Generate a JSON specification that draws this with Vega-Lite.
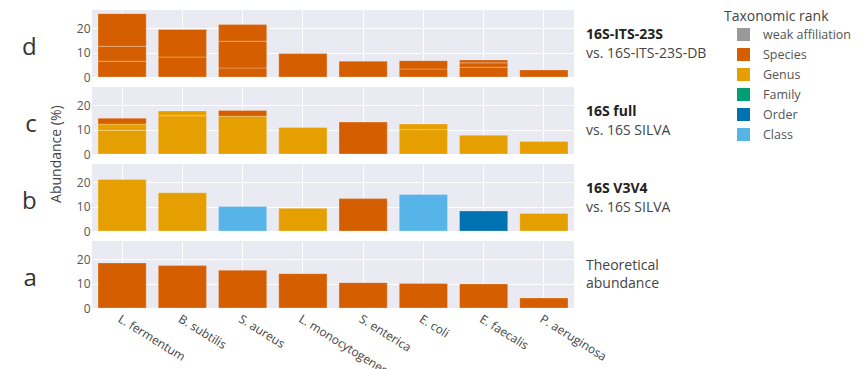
{
  "$schema": "https://vega.github.io/schema/vega-lite/v6.json",
  "padding": {"left": 21, "top": 10, "right": 5, "bottom": 5},
  "bounds": "flush",
  "spacing": 10,
  "title": {"text": "Abundance (%)", "orient": "left", "anchor": "middle", "angle": -90, "offset": -42, "dx": 39, "fontSize": 14, "fontWeight": "normal", "color": "#444", "font": "Open Sans"},
  "config": {
    "font": "Open Sans",
    "view": {"fill": "#EAEAF2", "stroke": null},
    "axisY": {"values": [0, 10, 20], "domain": false, "ticks": false, "labelPadding": 2, "labelFontSize": 12, "labelColor": "#555", "gridColor": "white", "gridWidth": 1, "titleAngle": 0, "titleFontSize": 24, "titleFontWeight": "normal", "titleColor": "#333", "titleAlign": "right", "titleBaseline": "alphabetic", "titleY": 44, "titlePadding": 40},
    "axisX": {"domain": false, "ticks": false, "grid": true, "gridColor": "white", "gridWidth": 1, "bandPosition": 0.5, "title": null},
    "legend": {"orient": "right", "offset": 17, "titleFontSize": 14, "titleFontWeight": "normal", "titleColor": "#444", "titlePadding": 4, "labelFontSize": 12.5, "labelColor": "#555", "symbolType": "square", "symbolSize": 169, "symbolStrokeWidth": 0, "symbolOffset": 13, "rowPadding": 7, "labelOffset": 13}
  },
  "datasets": {
    "bars": [
      {"panel": "d", "organism": "L. fermentum", "rank": "Species", "value": 6.5, "seg": 1},
      {"panel": "d", "organism": "L. fermentum", "rank": "Species", "value": 6.1, "seg": 2},
      {"panel": "d", "organism": "L. fermentum", "rank": "Species", "value": 13.4, "seg": 3},
      {"panel": "d", "organism": "B. subtilis", "rank": "Species", "value": 8.2, "seg": 1},
      {"panel": "d", "organism": "B. subtilis", "rank": "Species", "value": 11.3, "seg": 2},
      {"panel": "d", "organism": "S. aureus", "rank": "Species", "value": 3.7, "seg": 1},
      {"panel": "d", "organism": "S. aureus", "rank": "Species", "value": 11.0, "seg": 2},
      {"panel": "d", "organism": "S. aureus", "rank": "Species", "value": 6.8, "seg": 3},
      {"panel": "d", "organism": "L. monocytogenes", "rank": "Species", "value": 9.6, "seg": 1},
      {"panel": "d", "organism": "S. enterica", "rank": "Species", "value": 6.5, "seg": 1},
      {"panel": "d", "organism": "E. coli", "rank": "Species", "value": 3.3, "seg": 1},
      {"panel": "d", "organism": "E. coli", "rank": "Species", "value": 3.4, "seg": 2},
      {"panel": "d", "organism": "E. faecalis", "rank": "Species", "value": 4.0, "seg": 1},
      {"panel": "d", "organism": "E. faecalis", "rank": "Species", "value": 1.8, "seg": 2},
      {"panel": "d", "organism": "E. faecalis", "rank": "Species", "value": 1.2, "seg": 3},
      {"panel": "d", "organism": "P. aeruginosa", "rank": "Species", "value": 2.9, "seg": 1},
      {"panel": "c", "organism": "L. fermentum", "rank": "Genus", "value": 9.7, "seg": 1},
      {"panel": "c", "organism": "L. fermentum", "rank": "Genus", "value": 2.6, "seg": 2},
      {"panel": "c", "organism": "L. fermentum", "rank": "Species", "value": 2.4, "seg": 3},
      {"panel": "c", "organism": "B. subtilis", "rank": "Genus", "value": 15.7, "seg": 1},
      {"panel": "c", "organism": "B. subtilis", "rank": "Genus", "value": 2.0, "seg": 2},
      {"panel": "c", "organism": "S. aureus", "rank": "Genus", "value": 15.5, "seg": 1},
      {"panel": "c", "organism": "S. aureus", "rank": "Species", "value": 2.4, "seg": 2},
      {"panel": "c", "organism": "L. monocytogenes", "rank": "Genus", "value": 10.9, "seg": 1},
      {"panel": "c", "organism": "S. enterica", "rank": "Species", "value": 13.1, "seg": 1},
      {"panel": "c", "organism": "E. coli", "rank": "Genus", "value": 10.0, "seg": 1},
      {"panel": "c", "organism": "E. coli", "rank": "Genus", "value": 2.3, "seg": 2},
      {"panel": "c", "organism": "E. faecalis", "rank": "Genus", "value": 7.7, "seg": 1},
      {"panel": "c", "organism": "P. aeruginosa", "rank": "Genus", "value": 5.1, "seg": 1},
      {"panel": "b", "organism": "L. fermentum", "rank": "Genus", "value": 21.1, "seg": 1},
      {"panel": "b", "organism": "B. subtilis", "rank": "Genus", "value": 15.7, "seg": 1},
      {"panel": "b", "organism": "S. aureus", "rank": "Class", "value": 10.1, "seg": 1},
      {"panel": "b", "organism": "L. monocytogenes", "rank": "Genus", "value": 9.3, "seg": 1},
      {"panel": "b", "organism": "S. enterica", "rank": "Species", "value": 13.3, "seg": 1},
      {"panel": "b", "organism": "E. coli", "rank": "Class", "value": 15.0, "seg": 1},
      {"panel": "b", "organism": "E. faecalis", "rank": "Order", "value": 8.2, "seg": 1},
      {"panel": "b", "organism": "P. aeruginosa", "rank": "Genus", "value": 7.2, "seg": 1},
      {"panel": "a", "organism": "L. fermentum", "rank": "Species", "value": 18.5, "seg": 1},
      {"panel": "a", "organism": "B. subtilis", "rank": "Species", "value": 17.4, "seg": 1},
      {"panel": "a", "organism": "S. aureus", "rank": "Species", "value": 15.5, "seg": 1},
      {"panel": "a", "organism": "L. monocytogenes", "rank": "Species", "value": 14.1, "seg": 1},
      {"panel": "a", "organism": "S. enterica", "rank": "Species", "value": 10.4, "seg": 1},
      {"panel": "a", "organism": "E. coli", "rank": "Species", "value": 10.1, "seg": 1},
      {"panel": "a", "organism": "E. faecalis", "rank": "Species", "value": 9.9, "seg": 1},
      {"panel": "a", "organism": "P. aeruginosa", "rank": "Species", "value": 4.1, "seg": 1}
    ],
    "labels": [
      {"panel": "d", "line1": "16S-ITS-23S", "line2": "vs. 16S-ITS-23S-DB"},
      {"panel": "c", "line1": "16S full", "line2": "vs. 16S SILVA"},
      {"panel": "b", "line1": "16S V3V4", "line2": "vs. 16S SILVA"},
      {"panel": "a", "line1": "Theoretical", "line2": "abundance"}
    ]
  },
  "vconcat": [
    {
      "width": 482, "height": 67,
      "resolve": {"scale": {"x": "independent"}},
      "layer": [
        {
          "data": {"name": "bars"},
          "transform": [{"filter": "datum.panel === 'd'"}],
          "mark": {"type": "bar", "stroke": "white", "strokeOpacity": 0.25, "strokeWidth": 1},
          "encoding": {
            "x": {"field": "organism", "type": "nominal", "sort": ["L. fermentum", "B. subtilis", "S. aureus", "L. monocytogenes", "S. enterica", "E. coli", "E. faecalis", "P. aeruginosa"], "scale": {"paddingInner": 0.2, "paddingOuter": 0.1}, "axis": {"labels": false}},
            "y": {"field": "value", "type": "quantitative", "stack": "zero", "scale": {"domain": [0, 27.5], "nice": false}, "axis": {"title": "d"}},
            "color": {"field": "rank", "type": "nominal", "scale": {"domain": ["weak affiliation", "Species", "Genus", "Family", "Order", "Class"], "range": ["#999999", "#D55E00", "#E69F00", "#009E73", "#0072B2", "#56B4E9"]}, "legend": {"title": "Taxonomic rank"}},
            "order": {"field": "seg", "type": "quantitative"}
          }
        },
        {
          "data": {"name": "labels"},
          "transform": [{"filter": "datum.panel === 'd'"}],
          "mark": {"type": "text", "align": "left", "baseline": "middle", "dx": 12, "dy": -9, "fontSize": 14, "fontWeight": "bold", "color": "#222"},
          "encoding": {"x": {"datum": 1, "type": "quantitative", "scale": {"domain": [0, 1]}, "axis": null}, "text": {"field": "line1"}}
        },
        {
          "data": {"name": "labels"},
          "transform": [{"filter": "datum.panel === 'd'"}],
          "mark": {"type": "text", "align": "left", "baseline": "middle", "dx": 12, "dy": 10, "fontSize": 14, "color": "#444"},
          "encoding": {"x": {"datum": 1, "type": "quantitative", "scale": {"domain": [0, 1]}, "axis": null}, "text": {"field": "line2"}}
        }
      ]
    },
    {
      "width": 482, "height": 67,
      "resolve": {"scale": {"x": "independent"}},
      "layer": [
        {
          "data": {"name": "bars"},
          "transform": [{"filter": "datum.panel === 'c'"}],
          "mark": {"type": "bar", "stroke": "white", "strokeOpacity": 0.25, "strokeWidth": 1},
          "encoding": {
            "x": {"field": "organism", "type": "nominal", "sort": ["L. fermentum", "B. subtilis", "S. aureus", "L. monocytogenes", "S. enterica", "E. coli", "E. faecalis", "P. aeruginosa"], "scale": {"paddingInner": 0.2, "paddingOuter": 0.1}, "axis": {"labels": false}},
            "y": {"field": "value", "type": "quantitative", "stack": "zero", "scale": {"domain": [0, 27.5], "nice": false}, "axis": {"title": "c"}},
            "color": {"field": "rank", "type": "nominal", "scale": {"domain": ["weak affiliation", "Species", "Genus", "Family", "Order", "Class"], "range": ["#999999", "#D55E00", "#E69F00", "#009E73", "#0072B2", "#56B4E9"]}, "legend": {"title": "Taxonomic rank"}},
            "order": {"field": "seg", "type": "quantitative"}
          }
        },
        {
          "data": {"name": "labels"},
          "transform": [{"filter": "datum.panel === 'c'"}],
          "mark": {"type": "text", "align": "left", "baseline": "middle", "dx": 12, "dy": -9, "fontSize": 14, "fontWeight": "bold", "color": "#222"},
          "encoding": {"x": {"datum": 1, "type": "quantitative", "scale": {"domain": [0, 1]}, "axis": null}, "text": {"field": "line1"}}
        },
        {
          "data": {"name": "labels"},
          "transform": [{"filter": "datum.panel === 'c'"}],
          "mark": {"type": "text", "align": "left", "baseline": "middle", "dx": 12, "dy": 10, "fontSize": 14, "color": "#444"},
          "encoding": {"x": {"datum": 1, "type": "quantitative", "scale": {"domain": [0, 1]}, "axis": null}, "text": {"field": "line2"}}
        }
      ]
    },
    {
      "width": 482, "height": 67,
      "resolve": {"scale": {"x": "independent"}},
      "layer": [
        {
          "data": {"name": "bars"},
          "transform": [{"filter": "datum.panel === 'b'"}],
          "mark": {"type": "bar", "stroke": "white", "strokeOpacity": 0.25, "strokeWidth": 1},
          "encoding": {
            "x": {"field": "organism", "type": "nominal", "sort": ["L. fermentum", "B. subtilis", "S. aureus", "L. monocytogenes", "S. enterica", "E. coli", "E. faecalis", "P. aeruginosa"], "scale": {"paddingInner": 0.2, "paddingOuter": 0.1}, "axis": {"labels": false}},
            "y": {"field": "value", "type": "quantitative", "stack": "zero", "scale": {"domain": [0, 27.5], "nice": false}, "axis": {"title": "b"}},
            "color": {"field": "rank", "type": "nominal", "scale": {"domain": ["weak affiliation", "Species", "Genus", "Family", "Order", "Class"], "range": ["#999999", "#D55E00", "#E69F00", "#009E73", "#0072B2", "#56B4E9"]}, "legend": {"title": "Taxonomic rank"}},
            "order": {"field": "seg", "type": "quantitative"}
          }
        },
        {
          "data": {"name": "labels"},
          "transform": [{"filter": "datum.panel === 'b'"}],
          "mark": {"type": "text", "align": "left", "baseline": "middle", "dx": 12, "dy": -9, "fontSize": 14, "fontWeight": "bold", "color": "#222"},
          "encoding": {"x": {"datum": 1, "type": "quantitative", "scale": {"domain": [0, 1]}, "axis": null}, "text": {"field": "line1"}}
        },
        {
          "data": {"name": "labels"},
          "transform": [{"filter": "datum.panel === 'b'"}],
          "mark": {"type": "text", "align": "left", "baseline": "middle", "dx": 12, "dy": 10, "fontSize": 14, "color": "#444"},
          "encoding": {"x": {"datum": 1, "type": "quantitative", "scale": {"domain": [0, 1]}, "axis": null}, "text": {"field": "line2"}}
        }
      ]
    },
    {
      "width": 482, "height": 67,
      "resolve": {"scale": {"x": "independent"}},
      "layer": [
        {
          "data": {"name": "bars"},
          "transform": [{"filter": "datum.panel === 'a'"}],
          "mark": {"type": "bar", "stroke": "white", "strokeOpacity": 0.25, "strokeWidth": 1},
          "encoding": {
            "x": {"field": "organism", "type": "nominal", "sort": ["L. fermentum", "B. subtilis", "S. aureus", "L. monocytogenes", "S. enterica", "E. coli", "E. faecalis", "P. aeruginosa"], "scale": {"paddingInner": 0.2, "paddingOuter": 0.1}, "axis": {"labels": true, "labelAngle": 32, "labelFontSize": 12, "labelColor": "#444", "labelPadding": 5}},
            "y": {"field": "value", "type": "quantitative", "stack": "zero", "scale": {"domain": [0, 27.5], "nice": false}, "axis": {"title": "a"}},
            "color": {"field": "rank", "type": "nominal", "scale": {"domain": ["weak affiliation", "Species", "Genus", "Family", "Order", "Class"], "range": ["#999999", "#D55E00", "#E69F00", "#009E73", "#0072B2", "#56B4E9"]}, "legend": {"title": "Taxonomic rank"}},
            "order": {"field": "seg", "type": "quantitative"}
          }
        },
        {
          "data": {"name": "labels"},
          "transform": [{"filter": "datum.panel === 'a'"}],
          "mark": {"type": "text", "align": "left", "baseline": "middle", "dx": 12, "dy": -9, "fontSize": 14, "color": "#444"},
          "encoding": {"x": {"datum": 1, "type": "quantitative", "scale": {"domain": [0, 1]}, "axis": null}, "text": {"field": "line1"}}
        },
        {
          "data": {"name": "labels"},
          "transform": [{"filter": "datum.panel === 'a'"}],
          "mark": {"type": "text", "align": "left", "baseline": "middle", "dx": 12, "dy": 9, "fontSize": 14, "color": "#444"},
          "encoding": {"x": {"datum": 1, "type": "quantitative", "scale": {"domain": [0, 1]}, "axis": null}, "text": {"field": "line2"}}
        }
      ]
    }
  ]
}
